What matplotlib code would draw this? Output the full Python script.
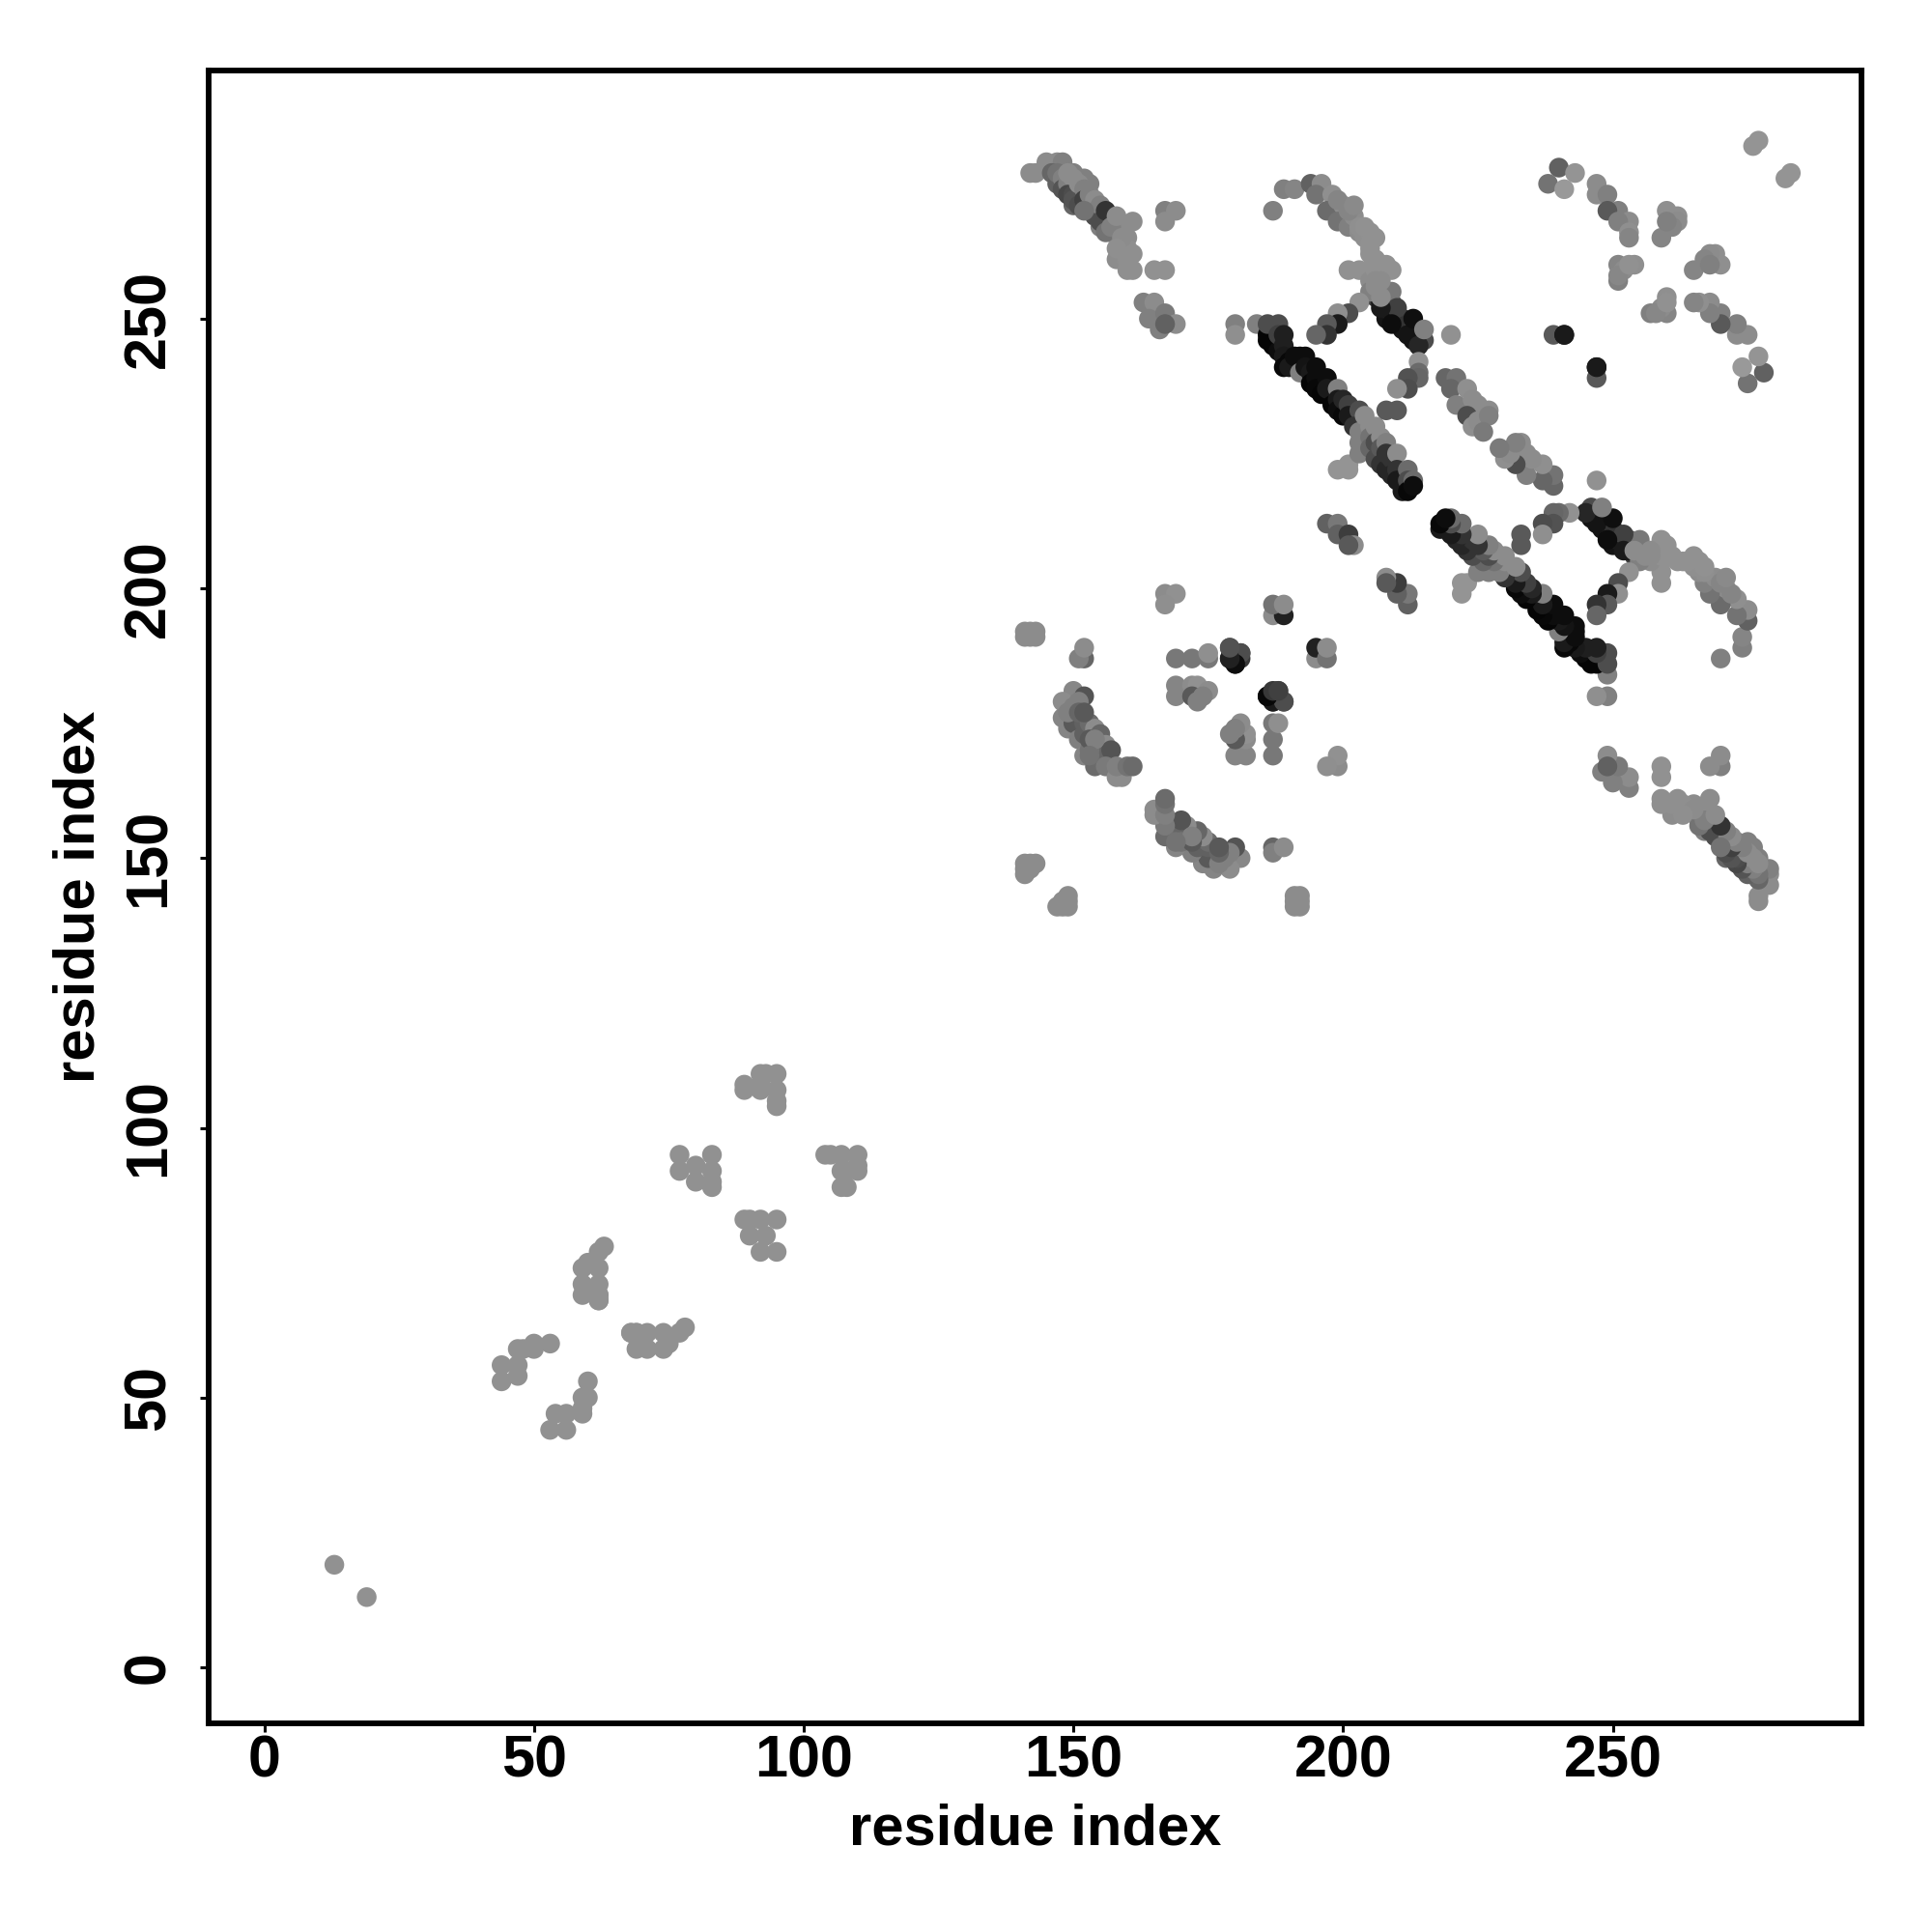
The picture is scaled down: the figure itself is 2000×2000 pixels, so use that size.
import numpy as np
import matplotlib
matplotlib.use('Agg')
import matplotlib.pyplot as plt

plt.rcParams['font.family'] = ['Liberation Sans', 'DejaVu Sans']

# contact map is symmetric, only the i<j half is listed
# low residues, all the same grey
low_i = [13, 44, 44, 47, 47, 47, 48, 50, 50, 53, 59, 59, 59, 60, 62, 62, 62, 62, 62, 63, 68, 69]
low_j = [19, 56, 53, 56, 54, 59, 59, 60, 59, 60, 74, 71, 69, 75, 74, 71, 69, 68, 77, 78, 62, 62]
low_g = [.57] * 22

mid_i = [77, 77, 80, 80, 83, 83, 83, 83, 89, 89, 92, 92, 92, 93, 95, 95, 95, 95]
mid_j = [95, 92, 93, 90, 95, 92, 90, 89, 107, 108, 107, 108, 110, 110, 110, 107, 105, 104]
mid_g = [.57] * 18

# sheet 147-168 against 250-279
a_i = [142, 143, 145, 146, 147, 148, 146, 147, 147, 148, 148, 149, 149, 150, 149, 150, 150, 151, 151, 152,
       152, 153, 153, 154, 154, 155, 155, 155, 156, 152, 156, 157, 158, 161, 159, 158, 158, 160, 161, 160,
       161, 165, 167, 167, 169, 167, 163, 165, 164, 167, 166, 169, 167]
a_j = [277, 277, 279, 278, 279, 279, 277, 275, 277, 276, 274, 275, 277, 276, 273, 273, 272, 275, 271, 274,
       272, 270, 273, 272, 269, 271, 267, 268, 270, 270, 266, 267, 269, 268, 265, 261, 263, 259, 259, 261,
       262, 259, 259, 270, 270, 268, 253, 253, 250, 251, 248, 249, 249]
a_g = [.55, .55, .55, .55, .55, .5, .4, .38, .45, .5, .33, .5, .55, .55, .28, .3, .33, .55, .3, .5,
       .25, .3, .5, .55, .3, .5, .5, .3, .2, .45, .45, .5, .55, .55, .55, .55, .56, .56, .56, .56,
       .56, .57, .57, .5, .55, .55, .5, .55, .5, .48, .5, .55, .38]

# inner part of the same sheet, sits under the lighter dots
a2_i = [147, 148, 149, 150, 150, 151, 152, 152, 153, 153, 154, 155, 156, 157, 157, 158, 159, 159, 160, 160]
a2_j = [276, 278, 274, 271, 277, 273, 271, 276, 271, 275, 270, 269, 268, 268, 266, 266, 267, 263, 265, 263]
a2_g = [.5, .5, .4, .4, .5, .35, .3, .5, .35, .5, .3, .3, .4, .45, .5, .55, .55, .55, .55, .56]

# near-diagonal corners
c_i = [141, 141, 142, 142, 143, 143, 141, 141, 141, 142, 142, 143]
c_j = [191, 192, 191, 192, 191, 192, 147, 148, 149, 149, 148, 149]
c_g = [.55] * 12

# hairpin 148-161 / 167-189
d_i = [152, 151, 152, 150, 152, 148, 151, 148, 150, 149, 150, 151, 152, 152, 153, 154, 154, 155, 155, 156,
       156, 157, 152, 153, 154, 156, 158, 159, 158, 160, 161, 149, 150, 151, 152, 153, 154, 153]
d_j = [187, 187, 189, 181, 180, 179, 179, 176, 176, 174, 175, 172, 173, 175, 175, 174, 171, 173, 170, 171,
       169, 170, 169, 170, 167, 167, 165, 165, 167, 167, 167, 177, 178, 177, 177, 172, 172, 169]
d_g = [.4, .5, .55, .53, .33, .55, .5, .52, .45, .52, .35, .5, .38, .38, .42, .55, .35, .4, .4, .55,
       .4, .33, .52, .45, .42, .48, .55, .55, .5, .45, .42, .5, .5, .4, .35, .35, .5, .45]

# centre of the 167-199 block
f_i = [167, 169, 167, 169, 172, 175, 175, 179, 179, 180, 181, 181, 169, 169, 172, 173, 172, 173, 175, 174,
       187, 188, 186, 187, 189, 187, 189, 187, 189, 197, 199, 199, 201, 202, 201]
f_j = [199, 199, 197, 187, 187, 187, 188, 187, 189, 186, 187, 188, 182, 180, 182, 182, 180, 179, 181, 180,
       180, 181, 180, 179, 179, 195, 195, 197, 197, 212, 212, 210, 210, 208, 208]
f_g = [.55, .57, .56, .47, .47, .47, .56, .1, .3, .03, .22, .25, .52, .52, .55, .57, .35, .5, .55, .5,
       .15, .3, .05, .13, .32, .55, .13, .45, .55, .38, .47, .38, .24, .55, .35]

# strand 186-213 / 218-249, the darkest one
g_i = [180, 180, 184, 186, 186, 187, 188, 186, 188, 188, 189, 189, 189, 189, 190, 190, 191, 192, 193, 192,
       193, 194, 194, 195, 195, 195, 196, 197, 197, 198, 199, 199, 199, 200, 200, 201, 201, 202, 203, 202,
       199, 201, 201, 203, 203, 204, 203, 205, 205, 205, 206, 206, 206, 207, 207, 207, 208, 208, 208, 209,
       209, 210, 210, 210, 211, 212, 212, 212, 213, 213]
g_j = [249, 247, 249, 247, 246, 245, 244, 249, 249, 247, 247, 245, 243, 241, 242, 241, 243, 243, 243, 240,
       241, 240, 238, 241, 239, 237, 236, 239, 237, 234, 237, 235, 233, 232, 235, 234, 232, 231, 233, 230,
       222, 222, 223, 229, 227, 232, 225, 230, 228, 226, 230, 224, 227, 228, 226, 223, 227, 222, 225, 224,
       221, 225, 222, 220, 218, 222, 220, 218, 220, 219]
g_g = [.5, .56, .5, .02, .02, .02, .05, .3, .3, .25, .12, .12, .1, .03, .03, .1, .05, .05, .05, .5,
       .08, .1, .02, .05, .05, .03, .02, .05, .1, .02, .5, .1, .05, .03, .15, .25, .1, .1, .3, .2,
       .58, .58, .58, .5, .5, .55, .5, .55, .45, .4, .55, .3, .3, .55, .35, .2, .5, .15, .2, .2,
       .15, .55, .2, .1, .1, .42, .3, .03, .42, .05]

# dark strip where the arc meets the diamond
h2_i = [206, 207, 208, 208, 209, 210, 210, 211, 211, 212, 213, 213, 214, 214, 215, 206, 207, 208, 209]
h2_j = [254, 253, 252, 250, 251, 250, 249, 248, 250, 249, 248, 246, 247, 246, 246, 256, 255, 254, 253]
h2_g = [.25, .1, .1, .08, .12, .08, .06, .08, .2, .2, .25, .08, .2, .15, .3, .5, .5, .4, .3]

# arc 187-215 / 240-275, lighter at the far end
h_i = [187, 189, 191, 194, 196, 195, 198, 197, 200, 199, 201, 202, 203, 204, 205, 205, 205, 201, 203, 205,
       208, 209, 205, 205, 206, 207, 209, 210, 207, 209, 212, 213, 214, 215, 214, 214, 203, 201, 199, 199,
       197, 197, 195, 214, 212, 212, 210, 208, 210, 220, 239, 241, 247, 203, 204, 206, 205, 206, 206, 207,
       206, 207, 199, 201, 202]
h_j = [270, 274, 274, 275, 275, 273, 273, 270, 271, 268, 267, 269, 266, 265, 266, 264, 262, 259, 259, 259,
       260, 259, 257, 255, 256, 259, 255, 252, 252, 249, 247, 250, 245, 248, 242, 240, 253, 251, 251, 249,
       249, 247, 247, 239, 239, 237, 237, 233, 233, 247, 247, 247, 241, 267, 267, 265, 263, 261, 259, 257,
       257, 254, 272, 270, 271]
h_g = [.5, .5, .52, .38, .55, .45, .56, .42, .55, .45, .5, .55, .55, .56, .57, .57, .57, .57, .57, .57,
       .57, .57, .55, .5, .55, .57, .47, .25, .1, .05, .08, .06, .15, .5, .57, .42, .57, .3, .56, .1,
       .35, .2, .4, .4, .32, .3, .56, .35, .35, .57, .35, .1, .1, .56, .57, .57, .57, .57, .57, .55,
       .55, .55, .52, .52, .54]

# upper corner, 219-283
p_i = [219, 221, 220, 223, 221, 224, 225, 227, 223, 224, 225, 227, 226, 240, 243, 238, 241, 247, 247, 249,
       251, 249, 253, 251, 253, 253, 260, 262, 262, 261, 259, 260, 251, 254, 252, 251, 251, 253, 276, 277]
p_j = [239, 239, 237, 237, 234, 235, 234, 233, 232, 230, 231, 232, 229, 278, 277, 275, 274, 275, 273, 273,
       270, 270, 268, 268, 266, 265, 270, 269, 268, 267, 265, 268, 260, 260, 259, 257, 258, 260, 282, 283]
p_g = [.4, .45, .4, .56, .5, .55, .55, .55, .3, .56, .55, .5, .48, .38, .58, .45, .6, .55, .55, .5,
       .5, .35, .55, .5, .56, .52, .56, .56, .55, .52, .52, .5, .52, .56, .55, .5, .53, .57, .58, .58]

clusters = [(a2_i, a2_j, a2_g), (g_i, g_j, g_g), (h2_i, h2_j, h2_g), (a_i, a_j, a_g), (c_i, c_j, c_g),
            (d_i, d_j, d_g), (f_i, f_j, f_g), (h_i, h_j, h_g), (p_i, p_j, p_g),
            (low_i, low_j, low_g), (mid_i, mid_j, mid_g)]

fig = plt.figure(figsize=(10, 10), dpi=200)
ax = fig.add_axes([216 / 2000, 216 / 2000, 1711 / 2000, 1711 / 2000])

for i, j, g in clusters:
    grey = np.r_[g, g]
    ax.scatter(np.r_[i, j], np.r_[j, i], s=54, c=np.c_[grey, grey, grey], linewidths=0, zorder=3)

ax.set_xlim(-10.3, 296.1)
ax.set_ylim(-10.4, 296)
for s in ax.spines.values():
    s.set_linewidth(2.1)

ax.set_xticks([0, 50, 100, 150, 200, 250])
ax.set_yticks([0, 50, 100, 150, 200, 250])
ax.tick_params(length=3.2, width=1.1, labelsize=22)
ax.tick_params(axis='x', pad=1)
ax.tick_params(axis='y', pad=8.5)
for t in ax.get_xticklabels() + ax.get_yticklabels():
    t.set_fontweight('bold')
for t in ax.get_yticklabels():
    t.set_rotation(90)
    t.set_verticalalignment('center')

ax.set_xlabel('residue index', fontsize=21.5, fontweight='bold', labelpad=5)
ax.set_ylabel('residue index', fontsize=21.5, fontweight='bold', labelpad=6)

fig.savefig('out.png', dpi=200, facecolor='white')
